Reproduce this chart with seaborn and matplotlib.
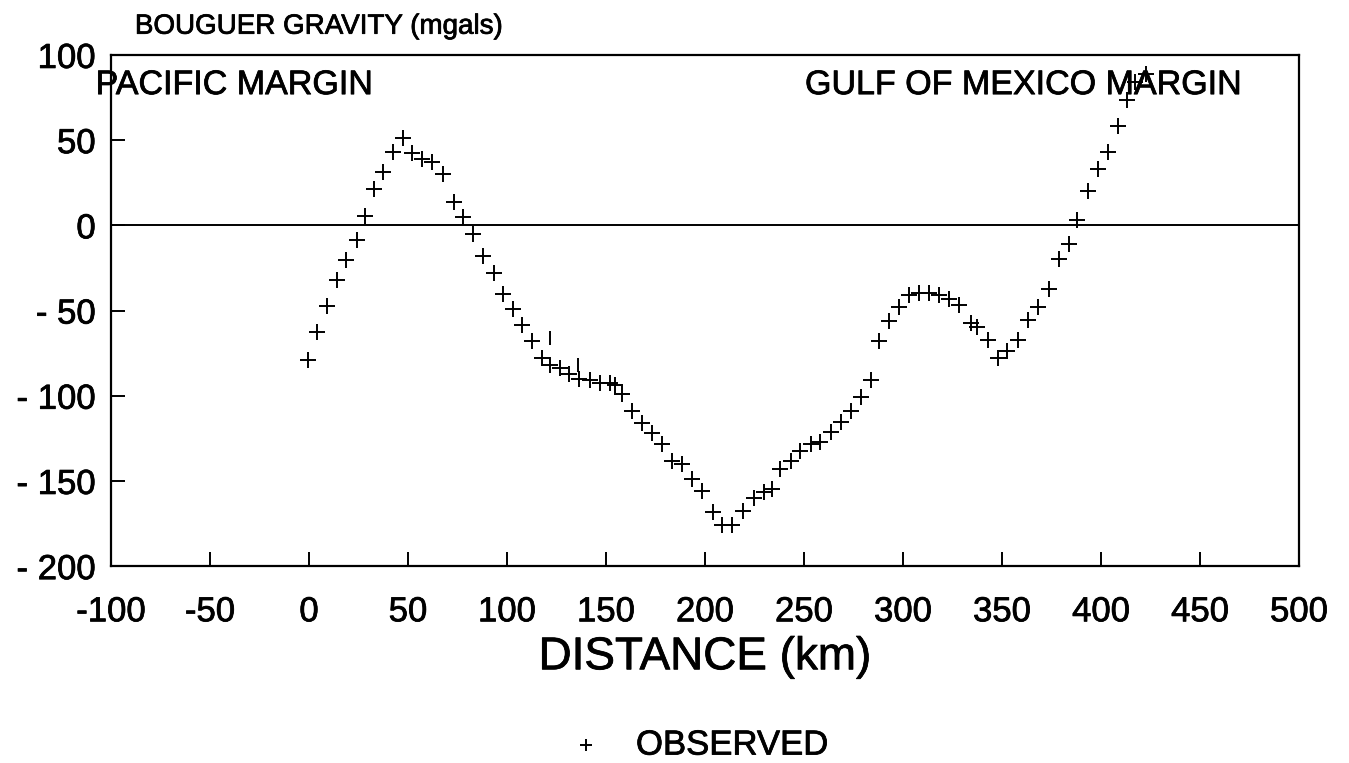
#!/usr/bin/env python3
import numpy as np
import pandas as pd
import seaborn as sns
from matplotlib import pyplot as plt
from matplotlib import patheffects as pe

# observed Bouguer gravity profile
distance_km = [-0.3, 4.2, 8.9, 14.0, 18.7, 24.1, 28.3, 33.0, 37.6, 42.6,
               47.7, 51.9, 56.9, 62.0, 67.9, 73.0, 78.0, 82.7, 88.1, 93.2,
               98.2, 103.0, 107.8, 112.8, 117.6, 121.8, 126.6, 131.1, 136.2, 141.7,
               146.8, 151.8, 154.7, 158.1, 163.1, 168.2, 173.3, 178.3, 183.4, 188.4,
               193.5, 198.5, 203.9, 208.6, 213.7, 219.2, 224.6, 229.7, 233.9, 238.1,
               243.2, 248.2, 253.3, 258.0, 263.4, 268.5, 273.5, 278.6, 284.0, 287.8,
               292.9, 298.0, 303.0, 308.1, 313.2, 318.2, 323.3, 328.0, 334.2, 337.2,
               342.9, 348.0, 352.4, 357.8, 363.2, 367.9, 373.5, 378.8, 383.9, 387.8,
               393.2, 398.2, 403.3, 408.3, 413.0, 417.2, 422.6]
gravity_mgal = [-79.1, -62.3, -47.5, -31.8, -20.5, -8.7, 5.7, 21.5, 31.4, 43.2,
                51.1, 42.6, 39.2, 37.3, 30.0, 13.6, 4.7, -5.1, -17.9, -27.8,
                -40.2, -48.9, -58.4, -68.0, -78.1, -81.7, -84.0, -87.0, -89.9, -90.9,
                -92.3, -92.3, -93.9, -98.8, -108.7, -116.0, -121.9, -128.4, -138.3, -140.2,
                -148.7, -156.0, -168.4, -175.7, -175.7, -167.8, -160.0, -156.6, -154.6, -143.2,
                -138.3, -132.3, -128.4, -127.0, -121.5, -115.6, -108.7, -100.8, -90.9, -67.9,
                -56.0, -48.1, -40.6, -39.6, -39.6, -41.0, -43.0, -47.0, -57.4, -59.4,
                -67.3, -77.7, -73.8, -67.3, -55.4, -48.1, -37.5, -19.9, -11.1, 3.1,
                20.1, 33.3, 43.2, 58.4, 73.6, 84.0, 88.6]

# two half-printed marks in the original plot
stray_km = [121.5, 135.7]
stray_mgal = [-66.3, -82.0]

x_ticks = list(range(-100, 501, 50))
y_ticks = list(range(-200, 101, 50))


def main():
    sns.set_style("ticks")
    plt.rcParams['font.family'] = ['Liberation Sans', 'DejaVu Sans']
    plt.rcParams['text.color'] = 'black'
    plt.rcParams['axes.labelcolor'] = 'black'
    plt.rcParams['xtick.color'] = 'black'
    plt.rcParams['ytick.color'] = 'black'

    # slightly heavier strokes, like the old plotter lettering
    thick = [pe.withStroke(linewidth=0.55, foreground="black")]

    df = pd.DataFrame({"Distance": distance_km, "Gravity": gravity_mgal})

    fig, ax = plt.subplots(figsize=(13.49, 7.63), dpi=100)
    fig.subplots_adjust(left=0.0823, right=0.963, bottom=0.258, top=0.928)

    sns.scatterplot(data=df, x="Distance", y="Gravity", marker="+", color="black",
                    s=130, linewidth=1.4, label="OBSERVED", ax=ax)
    ax.scatter(stray_km, stray_mgal, marker="|", color="black", s=110, linewidths=1.4)

    ax.axhline(0, color="black", lw=1.4)

    ax.set_xlim(-100, 500)
    ax.set_ylim(-200, 100)
    ax.set_xticks(x_ticks)
    ax.set_yticks(y_ticks)
    ax.set_xticklabels([str(t) for t in x_ticks])
    ax.set_yticklabels(["- " + str(-t) if t < 0 else str(t) for t in y_ticks])
    ax.tick_params(direction="in", length=10, width=1.4, labelsize=25, top=False, right=False)
    ax.tick_params(axis="x", pad=21)
    ax.tick_params(axis="y", pad=11)
    for sp in ax.spines.values():
        sp.set_linewidth(1.6)
        sp.set_color("black")

    ax.set_xlabel("DISTANCE (km)", fontsize=33, labelpad=5)
    ax.set_ylabel("")

    fig.text(0.1, 0.965, "BOUGUER GRAVITY (mgals)", fontsize=20, va="center", ha="left",
             path_effects=thick)
    ax.text(-0.013, 0.94, "PACIFIC MARGIN", transform=ax.transAxes, fontsize=24.5,
            ha="left", va="center", path_effects=thick)
    ax.text(0.951, 0.94, "GULF OF MEXICO MARGIN", transform=ax.transAxes, fontsize=24.5,
            ha="right", va="center", path_effects=thick)

    leg = ax.legend(loc="center", bbox_to_anchor=(0.487, -0.35), frameon=False,
                    fontsize=25, handletextpad=0.45, markerscale=0.8,
                    borderpad=0.2)

    for t in ax.get_xticklabels() + ax.get_yticklabels() + leg.get_texts() + [ax.xaxis.label]:
        t.set_path_effects(thick)

    fig.savefig("out.png", dpi=100)


if __name__ == "__main__":
    main()
